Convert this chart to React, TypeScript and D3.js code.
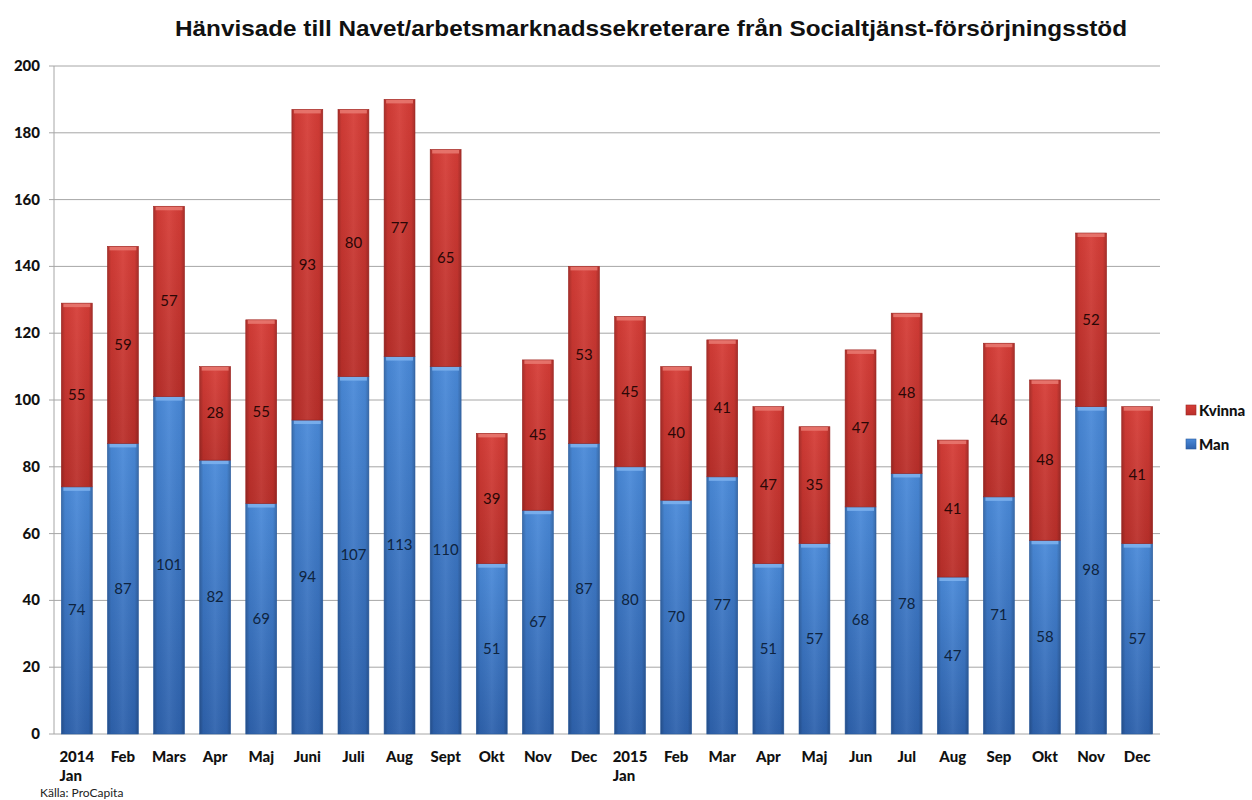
import React from "react";
import * as d3 from "d3";

const months = ["2014\nJan","Feb","Mars","Apr","Maj","Juni","Juli","Aug","Sept","Okt","Nov","Dec","2015\nJan","Feb","Mar","Apr","Maj","Jun","Jul","Aug","Sep","Okt","Nov","Dec"];
const man = [74,87,101,82,69,94,107,113,110,51,67,87,80,70,77,51,57,68,78,47,71,58,98,57];
const kvinna = [55,59,57,28,55,93,80,77,65,39,45,53,45,40,41,47,35,47,48,41,46,48,52,41];
const yTicks = [0,20,40,60,80,100,120,140,160,180,200];
const title = "Hänvisade till Navet/arbetsmarknadssekreterare från Socialtjänst-försörjningsstöd";
const source = "Källa: ProCapita";

const W = 1252, H = 800;
const left = 54, right = 1160, top = 66, bottom = 734;

export default function App() {
  const x = d3.scaleBand<number>().domain(d3.range(months.length)).range([left, right]).paddingInner(0.33).paddingOuter(0.16);
  const y = d3.scaleLinear().domain([0, 200]).range([bottom, top]);
  const bw = x.bandwidth();
  const font = "Lato, 'Open Sans', sans-serif";

  const seg = (i: number, y0: number, y1: number, kind: "m" | "k") => {
    const xx = x(i)!;
    const ya = y(y1), yb = y(y0);
    const h = yb - ya;
    return (
      <g key={kind + i}>
        <rect x={xx} y={ya} width={bw} height={h} fill={`url(#v${kind})`} />
        <rect x={xx} y={ya} width={bw} height={h} fill="url(#hshade)" />
        <rect x={xx + 2} y={ya} width={bw - 4} height={4} fill={kind === "m" ? "#7fb3ee" : "#e97a72"} opacity={0.85} />
        <rect x={xx} y={ya} width={bw} height={h} fill="none" stroke={kind === "m" ? "#2a5a9c" : "#9a2622"} strokeWidth={0.6} />
      </g>
    );
  };

  return (
    <svg width={W} height={H} style={{ position: "absolute", left: 0, top: 0, background: "#fff" }}>
      <defs>
        <linearGradient id="vm" x1="0" y1="0" x2="0" y2="1">
          <stop offset="0" stopColor="#4a8ad9" />
          <stop offset="1" stopColor="#2e62ad" />
        </linearGradient>
        <linearGradient id="vk" x1="0" y1="0" x2="0" y2="1">
          <stop offset="0" stopColor="#d63d37" />
          <stop offset="1" stopColor="#ba2f2a" />
        </linearGradient>
        <linearGradient id="hshade" x1="0" y1="0" x2="1" y2="0">
          <stop offset="0" stopColor="#000" stopOpacity="0.22" />
          <stop offset="0.12" stopColor="#000" stopOpacity="0.04" />
          <stop offset="0.5" stopColor="#fff" stopOpacity="0.06" />
          <stop offset="0.88" stopColor="#000" stopOpacity="0.04" />
          <stop offset="1" stopColor="#000" stopOpacity="0.22" />
        </linearGradient>
      </defs>

      <text x={651} y={36} textAnchor="middle" fontFamily="'Liberation Sans', Arial, sans-serif" fontWeight="bold" fontSize={22} textLength={952} lengthAdjust="spacingAndGlyphs" fill="#111">{title}</text>

      {yTicks.map(t => (
        <g key={t}>
          {t > 0 && <line x1={left} x2={right} y1={y(t)} y2={y(t)} stroke="#a6a6a6" strokeWidth={1} />}
          <line x1={left - 5} x2={left} y1={y(t)} y2={y(t)} stroke="#a6a6a6" />
          <text x={40} y={y(t) + 5} textAnchor="end" fontFamily={font} fontWeight="900" fontSize={15} fill="#111">{t}</text>
        </g>
      ))}
      <line x1={left} x2={left} y1={top} y2={bottom} stroke="#a6a6a6" />
      <line x1={left} x2={right} y1={bottom} y2={bottom} stroke="#a6a6a6" />

      {months.map((_, i) => seg(i, 0, man[i], "m"))}
      {months.map((_, i) => seg(i, man[i], man[i] + kvinna[i], "k"))}

      {months.map((_, i) => (
        <g key={"l" + i} fontFamily={font} fontSize={15} textAnchor="middle">
          <text x={x(i)! + bw / 2} y={y(man[i] / 2) + 5} fill="#0e2440">{man[i]}</text>
          <text x={x(i)! + bw / 2} y={y(man[i] + kvinna[i] / 2) + 5} fill="#2a0706">{kvinna[i]}</text>
        </g>
      ))}

      {months.map((m, i) => {
        const parts = m.split("\n");
        return (
          <text key={"x" + i} fontFamily={font} fontWeight="900" fontSize={15} fill="#111">
            {parts.map((p, j) => (
              <tspan key={j} x={x(i)! + (parts.length > 1 && j === 1 ? bw / 2 - 6 : bw / 2)} y={762 + j * 19} textAnchor="middle">{p}</tspan>
            ))}
          </text>
        );
      })}

      <text x={40} y={797} fontFamily={font} fontSize={12} fill="#222">{source}</text>

      <rect x={1186} y={405} width={10} height={10} fill="url(#vk)" stroke="#9a2622" strokeWidth={0.6} />
      <text x={1199} y={416} fontFamily={font} fontWeight="900" fontSize={15} fill="#111">Kvinna</text>
      <rect x={1186} y={439} width={10} height={10} fill="url(#vm)" stroke="#2a5a9c" strokeWidth={0.6} />
      <text x={1199} y={450} fontFamily={font} fontWeight="900" fontSize={15} fill="#111">Man</text>
    </svg>
  );
}
